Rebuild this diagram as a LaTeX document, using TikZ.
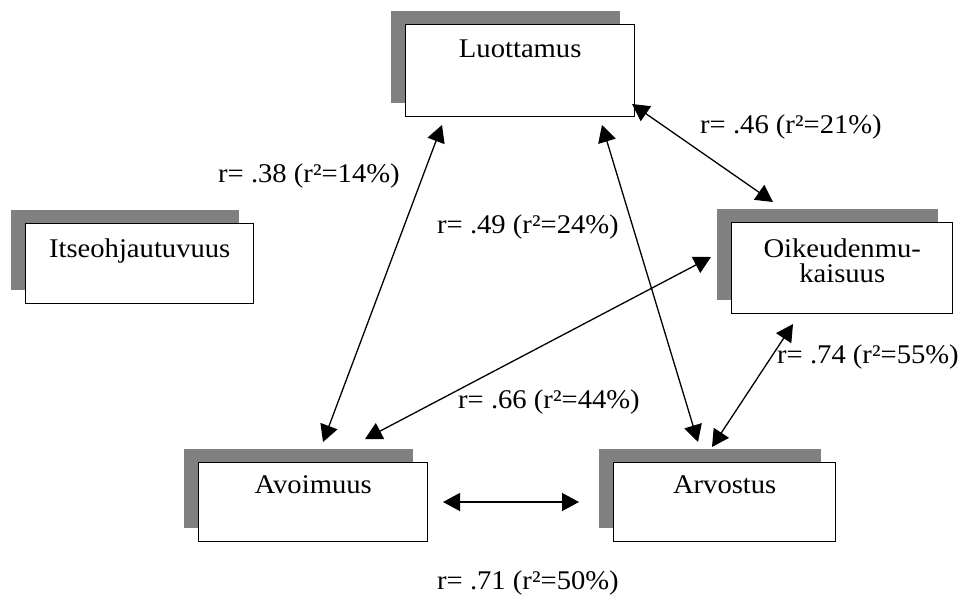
\documentclass[tikz,border=0pt]{standalone}
\usepackage{fontspec}
\setmainfont{Liberation Serif}[FakeStretch=1.06]
\usetikzlibrary{arrows.meta,shadows,calc}
\definecolor{shadowgray}{HTML}{808080}
\tikzset{
  conceptbox/.style={rectangle, draw=black, line width=1.4pt, fill=white,
    inner sep=0pt, anchor=north west,
    drop shadow={shadow xshift=-15pt, shadow yshift=14pt, fill=shadowgray, opacity=1}},
  boxtext/.style={anchor=base, inner sep=0pt, align=center,
    font=\fontsize{27}{25}\selectfont},
  corrlabel/.style={anchor=base west, inner sep=0pt,
    font=\fontsize{27}{32}\selectfont},
  corr/.style={{Triangle[length=17pt,width=18pt]}-{Triangle[length=17pt,width=18pt]},
    line width=1.3pt}
}
\begin{document}
\begin{tikzpicture}[x=1pt,y=-1pt]
  \useasboundingbox (0,0) rectangle (963,595);

  % concept boxes
  \node[conceptbox, minimum width=229pt, minimum height=92pt] (luo)  at (405,24)  {};
  \node[conceptbox, minimum width=228pt, minimum height=80pt] (itse) at (25,223)  {};
  \node[conceptbox, minimum width=221pt, minimum height=91pt] (oik)  at (731,222) {};
  \node[conceptbox, minimum width=229pt, minimum height=79pt] (avo)  at (198,462) {};
  \node[conceptbox, minimum width=222pt, minimum height=79pt] (arv)  at (613,462) {};

  % box titles (the two-line title sits on the baseline of its last line)
  \node[boxtext] (luoT)  at ($(luo.north)+(0,33)$)  {Luottamus};
  \node[boxtext] (itseT) at ($(itse.north)+(0,34)$) {Itseohjautuvuus};
  \node[boxtext] (oikT)  at ($(oik.north)+(0,60)$)  {Oikeudenmu-\\kaisuus};
  \node[boxtext] (avoT)  at ($(avo.north)+(0,31)$)  {Avoimuus};
  \node[boxtext] (arvT)  at ($(arv.north)+(0,31)$)  {Arvostus};

  % connector end points
  \coordinate (luoA) at (442,125);  \coordinate (avoL) at (323,442);
  \coordinate (luoB) at (602,125);  \coordinate (arvL) at (698,442);
  \coordinate (luoC) at (632,104);  \coordinate (oikL) at (773,202);
  \coordinate (oikA) at (711,257);  \coordinate (avoO) at (365,439);
  \coordinate (oikB) at (793,324);  \coordinate (arvO) at (712,447);
  \coordinate (avoR) at (443,502);  \coordinate (arvA) at (579,502);

  % correlations
  \draw[corr] (luoA) -- (avoL);
  \draw[corr] (luoB) -- (arvL);
  \draw[corr] (luoC) -- (oikL);
  \draw[corr] (oikA) -- (avoO);
  \draw[corr] (oikB) -- (arvO);
  \draw[corr] (avoR) -- (arvA);

  % correlation labels
  \node[corrlabel] (l38) at (218,182) {r= .38 (r²=14\%)};
  \node[corrlabel] (l49) at (437,233) {r= .49 (r²=24\%)};
  \node[corrlabel] (l46) at (700,133) {r= .46 (r²=21\%)};
  \node[corrlabel] (l74) at (777,363) {r= .74 (r²=55\%)};
  \node[corrlabel] (l66) at (458,408) {r= .66 (r²=44\%)};
  \node[corrlabel] (l71) at (437,589) {r= .71 (r²=50\%)};
\end{tikzpicture}
\end{document}
